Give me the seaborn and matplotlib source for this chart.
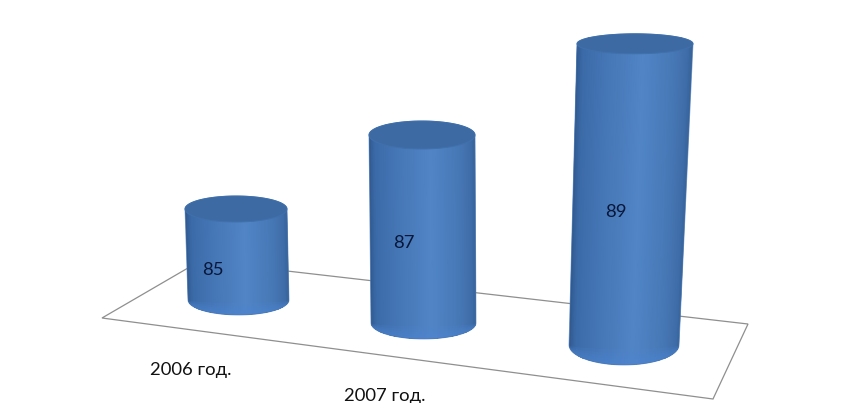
import matplotlib
matplotlib.use("AGG")
import matplotlib.pyplot as plt
import seaborn as sns
import numpy as np
from matplotlib.colors import LinearSegmentedColormap
from matplotlib.patches import PathPatch, Polygon
from matplotlib.path import Path

# data
categories = ["2006 год.", "2007 год.", "2008 год."]
values = [85, 87, 89]
axis_floor = 83

# layout, in pixels of the picture
W, H = 850, 403
base_left = [188, 371, 569]
base_right = [289, 476, 679]
top_left = [185, 369, 577]
top_right = [287, 475, 693]
base_y = [300, 323, 345]
base_ry = [15, 16, 20]
top_ry = [13, 14, 10]
px_per_unit = [45.5, 47, 50.2]  # nearer bars are drawn larger
value_pos = [(213, 270), (404, 243), (616, 212)]
cat_pos = [(191, 370), (385, 396)]  # third label falls outside the picture
floor_pts = [(102, 318), (200, 261), (748, 324), (713, 399)]

side_cmap = LinearSegmentedColormap.from_list("side", [
    (0.0, "#30598f"), (0.05, "#3c6ba8"), (0.3, "#4778b8"),
    (0.58, "#5185c6"), (0.85, "#4778b6"), (0.96, "#3f6da9"), (1.0, "#386499")])

sns.set_style("white")
plt.rcParams["font.family"] = ["Lato", "Open Sans", "DejaVu Sans"]

fig = plt.figure(figsize=(W / 100, H / 100), dpi=100)


def pixel_axes(z):
    ax = fig.add_axes([0, 0, 1, 1], zorder=z)
    ax.set_xlim(0, W)
    ax.set_ylim(H, 0)
    ax.axis("off")
    ax.patch.set_alpha(0)
    return ax


canvas = pixel_axes(1)
over = pixel_axes(10)

canvas.add_patch(Polygon(floor_pts, closed=True, fill=False, ec="#8f8f8f", lw=0.9))

t = np.linspace(0, np.pi, 60)


def arc(x0, x1, cy, ry, upper):
    cx = (x0 + x1) / 2
    rx = (x1 - x0) / 2
    sign = -1 if upper else 1
    return cx - rx * np.cos(t), cy + sign * ry * np.sin(t)


for i, val in enumerate(values):
    a = fig.add_axes([base_left[i] / W, 0, (base_right[i] - base_left[i]) / W, 1], zorder=2 + i)
    sns.barplot(x=[categories[i]], y=[val], color="#4676b6", saturation=1, width=1, ax=a)
    a.set_xlim(-0.5, 0.5)
    a.set_ylim(axis_floor - (H - base_y[i]) / px_per_unit[i], axis_floor + base_y[i] / px_per_unit[i])
    a.axis("off")

    # the bar's height sets where the top of the cylinder goes
    bar = a.patches[0]
    disp = a.transData.transform((0, bar.get_y() + bar.get_height()))
    top_y = over.transData.inverted().transform(disp)[1]

    tx, ty = arc(top_left[i], top_right[i], top_y, top_ry[i], True)
    bx, by = arc(base_left[i], base_right[i], base_y[i], base_ry[i], False)
    outline = np.vstack([np.column_stack([tx, ty]), np.column_stack([bx[::-1], by[::-1]])])
    clip = Path(np.vstack([outline, outline[:1]]), closed=True)
    bar.set_clip_path(clip, over.transData)

    # shading of the side, follows the lean of the cylinder
    u = np.linspace(0, 1, 50)
    xt = top_left[i] + u * (top_right[i] - top_left[i])
    xb = base_left[i] + u * (base_right[i] - base_left[i])
    ylo = base_y[i] + base_ry[i] + 2
    yhi = top_y - top_ry[i] - 2
    X = np.vstack([xt, xb])
    Y = np.vstack([np.full_like(u, yhi), np.full_like(u, ylo)])
    C = np.vstack([u, u])
    mesh = over.pcolormesh(X, Y, C, cmap=side_cmap, shading="gouraud", vmin=0, vmax=1, zorder=3)
    mesh.set_clip_path(clip, over.transData)
    over.add_patch(PathPatch(clip, fc="none", ec="#4a79b6", lw=0.6, alpha=0.7, zorder=5))

    # lighter rim at the foot, built up in soft layers
    rim_x, rim_y = arc(base_left[i], base_right[i], base_y[i], base_ry[i], False)
    for k in [0.2, 0.4, 0.55, 0.7, 0.85]:
        inner_y = base_y[i] + (rim_y - base_y[i]) * k
        over.add_patch(Polygon(np.vstack([np.column_stack([rim_x, rim_y]),
                                          np.column_stack([rim_x[::-1], inner_y[::-1]])]),
                               closed=True, fc="#4f88d6", ec="none", alpha=0.14, zorder=4))

    # top face
    ex2, ey2 = arc(top_left[i], top_right[i], top_y, top_ry[i], False)
    over.add_patch(Polygon(np.vstack([np.column_stack([tx, ty]), np.column_stack([ex2[::-1], ey2[::-1]])]),
                           closed=True, fc="#3d6aa2", ec="#4071ad", lw=0.7, zorder=6))

    over.text(value_pos[i][0], value_pos[i][1], str(val), ha="center", va="center",
              fontsize=13.3, color="#07173a", zorder=7)

for (x, y), cat in zip(cat_pos, categories):
    over.text(x, y, cat, ha="center", va="center", fontsize=13.3, color="#111111", zorder=7)

over.set_xlim(0, W)
over.set_ylim(H, 0)

plt.savefig("out.png", dpi=100)
